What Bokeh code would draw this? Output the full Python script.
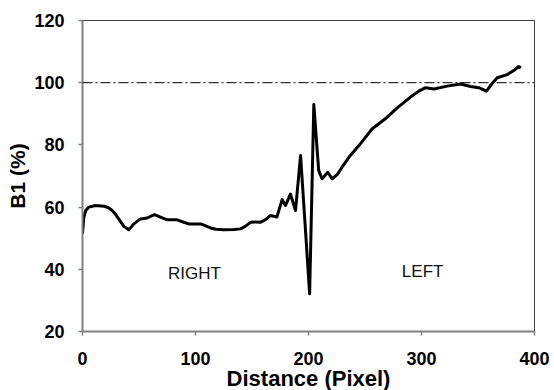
from bokeh.plotting import figure
from bokeh.models import Span, Label, FixedTicker, Title
from bokeh.embed import file_html
from bokeh.resources import INLINE

# ---- data ----
distance = [0, 1.2, 3, 5.6, 11.5, 18.9, 23, 26.3, 29, 32, 36.6, 41, 45.4, 51.3, 57.2,
            63.7, 69, 75, 83.8, 89, 94, 104.4, 108, 113.3, 118, 125, 134, 140, 144,
            148.7, 153, 157.5, 162, 166.4, 172, 176.7, 179.6, 184, 188.5, 193, 201,
            204.7, 209, 212, 217, 221, 226, 230, 237, 246, 256.4, 268, 278.5, 290,
            297.6, 303.5, 311, 322.7, 334.5, 343.4, 350.7, 357.5, 362, 367, 375.8,
            381.7, 386, 388]
b1 = [51.4, 56.8, 59, 60, 60.5, 60.3, 59.8, 58.9, 57.8, 56.2, 53.8, 52.7, 54.6, 56.2,
      56.5, 57.6, 56.8, 55.9, 55.9, 55.2, 54.6, 54.6, 54.1, 53.3, 52.9, 52.7, 52.8,
      53, 53.8, 55.1, 55.2, 55.1, 56, 57.3, 56.8, 62.4, 60.5, 64.2, 58.9, 76.6, 32.1,
      93, 71.8, 69.1, 71.2, 69.1, 70.7, 73, 76.6, 80.4, 85.2, 88.4, 91.9, 95.3, 97.3,
      98.4, 98.0, 98.9, 99.6, 98.8, 98.4, 97.3, 99.5, 101.6, 102.6, 103.9, 105.2, 104.8]
reference_level = 100
x_ticks = [0, 100, 200, 300, 400]
y_ticks = [20, 40, 60, 80, 100, 120]
region_labels = ["RIGHT", "LEFT"]
region_x = [99, 301]
region_y = [38.5, 39.3]

FONT = "Liberation Sans"

p = figure(width=554, height=390, output_backend="svg", toolbar_location=None,
           x_range=(0, 400), y_range=(20, 120),
           min_border_left=82, min_border_right=20, min_border_top=20,
           min_border_bottom=59)

p.grid.visible = False
p.background_fill_color = "white"
p.outline_line_color = "#404040"
p.outline_line_width = 1

for ax in (p.xaxis[0], p.yaxis[0]):
    ax.axis_line_color = "#808080"
    ax.axis_line_width = 2
    ax.major_tick_line_color = "#808080"
    ax.major_tick_line_width = 1.5
    ax.major_tick_in = 0
    ax.major_tick_out = 4
    ax.minor_tick_line_color = None
    ax.major_label_text_font = FONT
    ax.major_label_text_font_style = "bold"
    ax.major_label_text_font_size = "18px"
    ax.major_label_text_color = "black"

p.xaxis.ticker = FixedTicker(ticks=x_ticks)
p.yaxis.ticker = FixedTicker(ticks=y_ticks)
p.xaxis.major_label_standoff = 16
p.yaxis.major_label_standoff = 14

p.yaxis.axis_label = "B1 (%)"
p.yaxis.axis_label_text_font = FONT
p.yaxis.axis_label_text_font_style = "bold"
p.yaxis.axis_label_text_font_size = "21px"
p.yaxis.axis_label_text_color = "black"
p.yaxis.axis_label_standoff = 2

p.add_layout(Title(text="Distance (Pixel)", align="center", offset=-26, standoff=-7,
                   text_font=FONT, text_font_style="bold", text_font_size="22px",
                   text_color="black"), "below")

p.add_layout(Span(location=reference_level, dimension="width", line_color="black",
                  line_width=1, line_dash="10 3 2 3"))

p.line(distance, b1, line_color="black", line_width=3, line_join="round")

for t, xx, yy in zip(region_labels, region_x, region_y):
    p.add_layout(Label(x=xx, y=yy, text=t, text_font=FONT, text_font_size="17px",
                       text_align="center", text_baseline="middle", text_color="#111111"))

open("out.html", "w").write(file_html(p, INLINE))
